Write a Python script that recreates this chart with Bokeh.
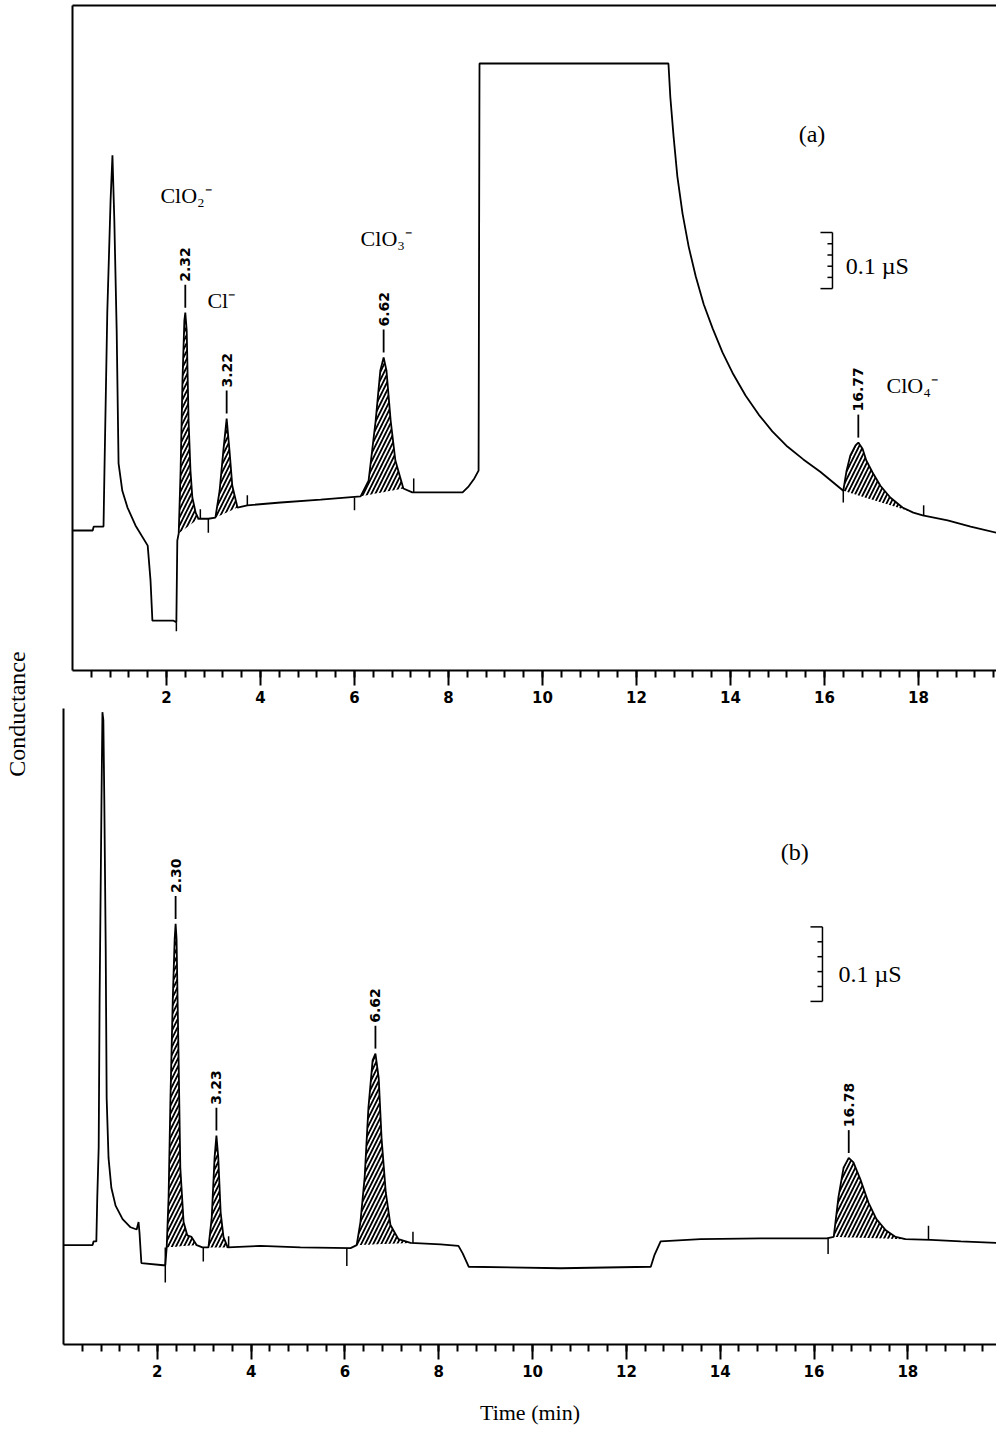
import numpy as np
from bokeh.plotting import figure
from bokeh.models import Range1d, FixedTicker, LinearAxis, Spacer
from bokeh.layouts import row, column
from bokeh.embed import file_html
from bokeh.resources import INLINE
from bokeh.core.properties import value

# ---------------- data (time in min, signal in nS) ----------------
top_time = [0.00, 0.43, 0.45, 0.66, 0.68, 0.74, 0.81, 0.85, 0.89, 0.94,
            0.98, 1.06, 1.17, 1.34, 1.60, 1.66, 1.70, 2.15, 2.21, 2.23,
            2.26, 2.30, 2.34, 2.38, 2.40, 2.43, 2.47, 2.51, 2.55, 2.62,
            2.68, 2.89, 3.04, 3.13, 3.21, 3.28, 3.34, 3.40, 3.51, 3.72,
            4.43, 5.28, 6.13, 6.30, 6.45, 6.55, 6.62, 6.68, 6.77, 6.87,
            7.04, 7.23, 7.83, 8.30, 8.43, 8.55, 8.64, 8.66, 12.68, 12.72,
            12.79, 12.87, 12.98, 13.11, 13.26, 13.43, 13.62, 13.83, 14.06, 14.32,
            14.60, 14.89, 15.21, 15.55, 15.91, 16.40, 16.47, 16.55, 16.66, 16.72,
            16.81, 16.89, 17.02, 17.19, 17.40, 17.66, 17.89, 18.09, 18.62, 19.11,
            19.66]
top_signal = [0, 0, 7, 7, 107, 389, 589, 670, 554, 357,
              120, 71, 41, 9, -27, -89, -161, -161, -164, -18,
              -5, 107, 268, 375, 389, 357, 196, 107, 59, 32,
              21, 21, 23, 71, 143, 200, 143, 80, 41, 45,
              50, 55, 61, 89, 196, 286, 309, 286, 196, 125,
              75, 68, 68, 68, 79, 93, 107, 834, 834, 774,
              703, 632, 566, 507, 454, 404, 361, 318, 279, 241,
              207, 177, 150, 127, 105, 71, 107, 134, 152, 157,
              146, 125, 104, 80, 59, 41, 32, 27, 18, 7,
              -4]

bot_time = [0.00, 0.62, 0.64, 0.70, 0.72, 0.75, 0.77, 0.79, 0.81, 0.83,
            0.85, 0.87, 0.90, 0.92, 0.96, 1.02, 1.11, 1.26, 1.43, 1.56,
            1.60, 1.62, 1.66, 2.13, 2.17, 2.20, 2.24, 2.28, 2.33, 2.37,
            2.39, 2.41, 2.45, 2.49, 2.56, 2.64, 2.73, 2.84, 2.96, 3.09,
            3.16, 3.22, 3.26, 3.30, 3.35, 3.41, 3.50, 4.20, 5.05, 6.12,
            6.25, 6.33, 6.42, 6.50, 6.59, 6.65, 6.72, 6.78, 6.87, 6.97,
            7.14, 7.40, 8.04, 8.42, 8.51, 8.64, 10.60, 12.52, 12.60, 12.73,
            13.58, 14.86, 16.27, 16.42, 16.52, 16.63, 16.74, 16.84, 16.99, 17.16,
            17.33, 17.53, 17.74, 17.95, 18.49, 19.13, 19.89]
bot_signal = [0, 0, 5, 5, 64, 131, 331, 464, 597, 715,
              704, 597, 397, 197, 117, 77, 53, 35, 24, 21,
              31, 17, -24, -27, -27, -3, 64, 197, 331, 411,
              431, 411, 264, 104, 31, 13, 11, 0, -3, -3,
              37, 117, 147, 117, 44, 11, -3, -1, -3, -4,
              0, 31, 91, 184, 248, 257, 224, 144, 71, 27,
              8, 3, 1, -1, -11, -29, -31, -29, -13, 5,
              8, 9, 9, 11, 64, 104, 117, 111, 88, 57,
              35, 20, 11, 8, 7, 5, 3]

# integrated (hatched) peak windows: start / end times
top_win_start = [2.26, 3.04, 6.13, 16.40]
top_win_end = [2.68, 3.51, 7.04, 18.09]
bot_win_start = [2.20, 3.09, 6.25, 16.42]
bot_win_end = [2.84, 3.50, 7.40, 17.95]

# integrator event marks (time, from, to)
top_mark_t = [2.21, 2.72, 2.89, 3.72, 6.00, 7.26, 16.40, 18.11]
top_mark_a = [-164, 21, 21, 45, 59, 68, 71, 27]
top_mark_b = [-180, 38, -4, 63, 36, 93, 50, 45]
bot_mark_t = [2.17, 2.98, 3.52, 6.04, 7.45, 16.30, 18.44]
bot_mark_a = [-3, -3, -3, -4, 3, 9, 7]
bot_mark_b = [-50, -22, 12, -28, 18, -12, 26]

# retention-time labels
top_peak_t = [2.40, 3.28, 6.62, 16.72]
top_peak_s = [389, 200, 309, 157]
top_peak_lbl = ["2.32", "3.22", "6.62", "16.77"]
bot_peak_t = [2.39, 3.26, 6.65, 16.74]
bot_peak_s = [431, 147, 257, 117]
bot_peak_lbl = ["2.30", "3.23", "6.62", "16.78"]

# ion names
ion_lbl = ["ClO\u2082\u207b", "Cl\u207b", "ClO\u2083\u207b", "ClO\u2084\u207b"]
ion_t = [1.87, 2.87, 6.13, 17.32]
ion_s = [598, 411, 521, 259]

# 0.1 uS scale bars (time, lower signal)
top_bar = (16.17, 432)
bot_bar = (16.18, 327)
bar_len = 100  # nS = 0.1 uS

major_ticks = [2, 4, 6, 8, 10, 12, 14, 16, 18]
minor_ticks = [round(0.4 * k, 1) for k in range(1, 50)]

SANS = "DejaVu Sans"
SERIF = "Liberation Serif"


def make_panel(width, height, x_end, y0, y1, mbl, mbt, mbb, top_border):
    p = figure(width=width, height=height, x_range=Range1d(0, x_end),
               y_range=Range1d(y0, y1), output_backend="svg",
               toolbar_location=None, min_border_left=mbl, min_border_right=0,
               min_border_top=mbt, min_border_bottom=mbb)
    p.grid.visible = False
    p.outline_line_color = None
    xa = p.xaxis[0]
    xa.ticker = FixedTicker(ticks=major_ticks, minor_ticks=minor_ticks)
    xa.axis_line_width = 2
    xa.major_tick_line_width = 2
    xa.minor_tick_line_width = 2
    xa.major_tick_in = 0
    xa.minor_tick_in = 0
    xa.major_tick_out = 15
    xa.minor_tick_out = 7
    xa.major_label_standoff = 5
    xa.major_label_text_font = SANS
    xa.major_label_text_font_style = "bold"
    xa.major_label_text_font_size = "15px"
    xa.major_label_text_color = "black"
    ya = p.yaxis[0]
    ya.ticker = FixedTicker(ticks=[])
    ya.axis_line_width = 2
    ya.major_tick_out = 0
    ya.minor_tick_out = 0
    ya.major_tick_in = 0
    ya.minor_tick_in = 0
    ya.major_label_standoff = 0
    if top_border:
        ta = LinearAxis(ticker=FixedTicker(ticks=[]), axis_line_width=2,
                        major_tick_out=0, minor_tick_out=0, major_tick_in=0,
                        minor_tick_in=0, major_label_standoff=0)
        p.add_layout(ta, "above")
    return p


def draw_trace(p, t, s, ws, we, mt, ma, mb, pt, ps, plbl, px, bar):
    t = np.array(t, dtype=float)
    s = np.array(s, dtype=float)
    for a, b in zip(ws, we):
        m = (t >= a - 1e-9) & (t <= b + 1e-9)
        tt = t[m]
        ss = s[m]
        base = np.interp(tt, [a, b], [np.interp(a, t, s), np.interp(b, t, s)])
        p.varea(x=tt, y1=base, y2=ss, fill_color="white", fill_alpha=0,
                hatch_pattern="/", hatch_color="black", hatch_scale=8,
                hatch_weight=1.8)
    p.line(t, s, line_color="black", line_width=1.8)
    p.segment(x0=mt, y0=ma, x1=mt, y1=mb, line_color="black", line_width=1.5)
    ps = np.array(ps, dtype=float)
    p.segment(x0=pt, y0=list(ps + 5 * px), x1=pt, y1=list(ps + 28 * px),
              line_color="black", line_width=1.8)
    p.text(x=pt, y=list(ps + 31 * px), text=plbl, angle=np.pi / 2,
           text_align="left", text_baseline="middle", text_font=value(SANS),
           text_font_style="bold", text_font_size="14px", text_color="black")
    # scale bar
    bt, bl = bar
    cap = 12 * 0.0213
    tk = 5 * 0.0213
    xs0 = [bt - cap, bt - cap] + [bt - tk] * 4
    ys = [bl, bl + bar_len] + [bl + bar_len * k / 5 for k in range(1, 5)]
    p.segment(x0=xs0, y0=ys, x1=[bt] * len(xs0), y1=ys, line_color="black",
              line_width=1.5)
    p.segment(x0=[bt], y0=[bl], x1=[bt], y1=[bl + bar_len], line_color="black",
              line_width=1.5)


# ---------------- top panel (a) ----------------
TOP_PX = 1.786   # nS per pixel
BOT_PX = 1.333

top = make_panel(937, 708, 19.66, -250, 937.6, 13, 5, 38, True)
draw_trace(top, top_time, top_signal, top_win_start, top_win_end,
           top_mark_t, top_mark_a, top_mark_b, top_peak_t, top_peak_s,
           top_peak_lbl, TOP_PX, top_bar)
top.text(x=ion_t, y=ion_s, text=ion_lbl, text_align="left",
         text_baseline="middle", text_font=value(SERIF),
         text_font_size="22px", text_color="black")
top.text(x=[15.45], y=[709], text=["(a)"], text_align="left",
         text_baseline="middle", text_font=value(SERIF),
         text_font_size="24px", text_color="black")
top.text(x=[16.45], y=[473], text=["0.1 \u00b5S"], text_align="left",
         text_baseline="middle", text_font=value(SERIF),
         text_font_size="24px", text_color="black")

# ---------------- bottom panel (b) ----------------
bot = make_panel(946, 719, 19.89, -133.3, 720, 13, 0, 79, False)
draw_trace(bot, bot_time, bot_signal, bot_win_start, bot_win_end,
           bot_mark_t, bot_mark_a, bot_mark_b, bot_peak_t, bot_peak_s,
           bot_peak_lbl, BOT_PX, bot_bar)
bot.text(x=[15.29], y=[528], text=["(b)"], text_align="left",
         text_baseline="middle", text_font=value(SERIF),
         text_font_size="24px", text_color="black")
bot.text(x=[16.52], y=[364], text=["0.1 \u00b5S"], text_align="left",
         text_baseline="middle", text_font=value(SERIF),
         text_font_size="24px", text_color="black")
bot.xaxis.axis_label = "Time (min)"
bot.xaxis.axis_label_text_font = SERIF
bot.xaxis.axis_label_text_font_size = "22px"
bot.xaxis.axis_label_text_font_style = "normal"
bot.xaxis.axis_label_text_color = "black"
bot.xaxis.axis_label_standoff = 20

# ---------------- shared y label ----------------
lab = figure(width=50, height=1427, x_range=Range1d(0, 1), y_range=Range1d(0, 1),
             output_backend="svg", toolbar_location=None, min_border=0)
lab.grid.visible = False
lab.outline_line_color = None
lab.xaxis.visible = False
lab.yaxis.ticker = FixedTicker(ticks=[])
lab.yaxis.axis_line_color = None
lab.yaxis.major_tick_out = 0
lab.yaxis.minor_tick_out = 0
lab.yaxis.major_label_standoff = 0
lab.yaxis.axis_label = "Conductance"
lab.yaxis.axis_label_text_font = SERIF
lab.yaxis.axis_label_text_font_size = "24px"
lab.yaxis.axis_label_text_font_style = "normal"
lab.yaxis.axis_label_text_color = "black"
lab.yaxis.axis_label_standoff = 4

layout = row(lab, column(row(Spacer(width=9, height=708), top), bot))
open("out.html", "w").write(file_html(layout, INLINE))
